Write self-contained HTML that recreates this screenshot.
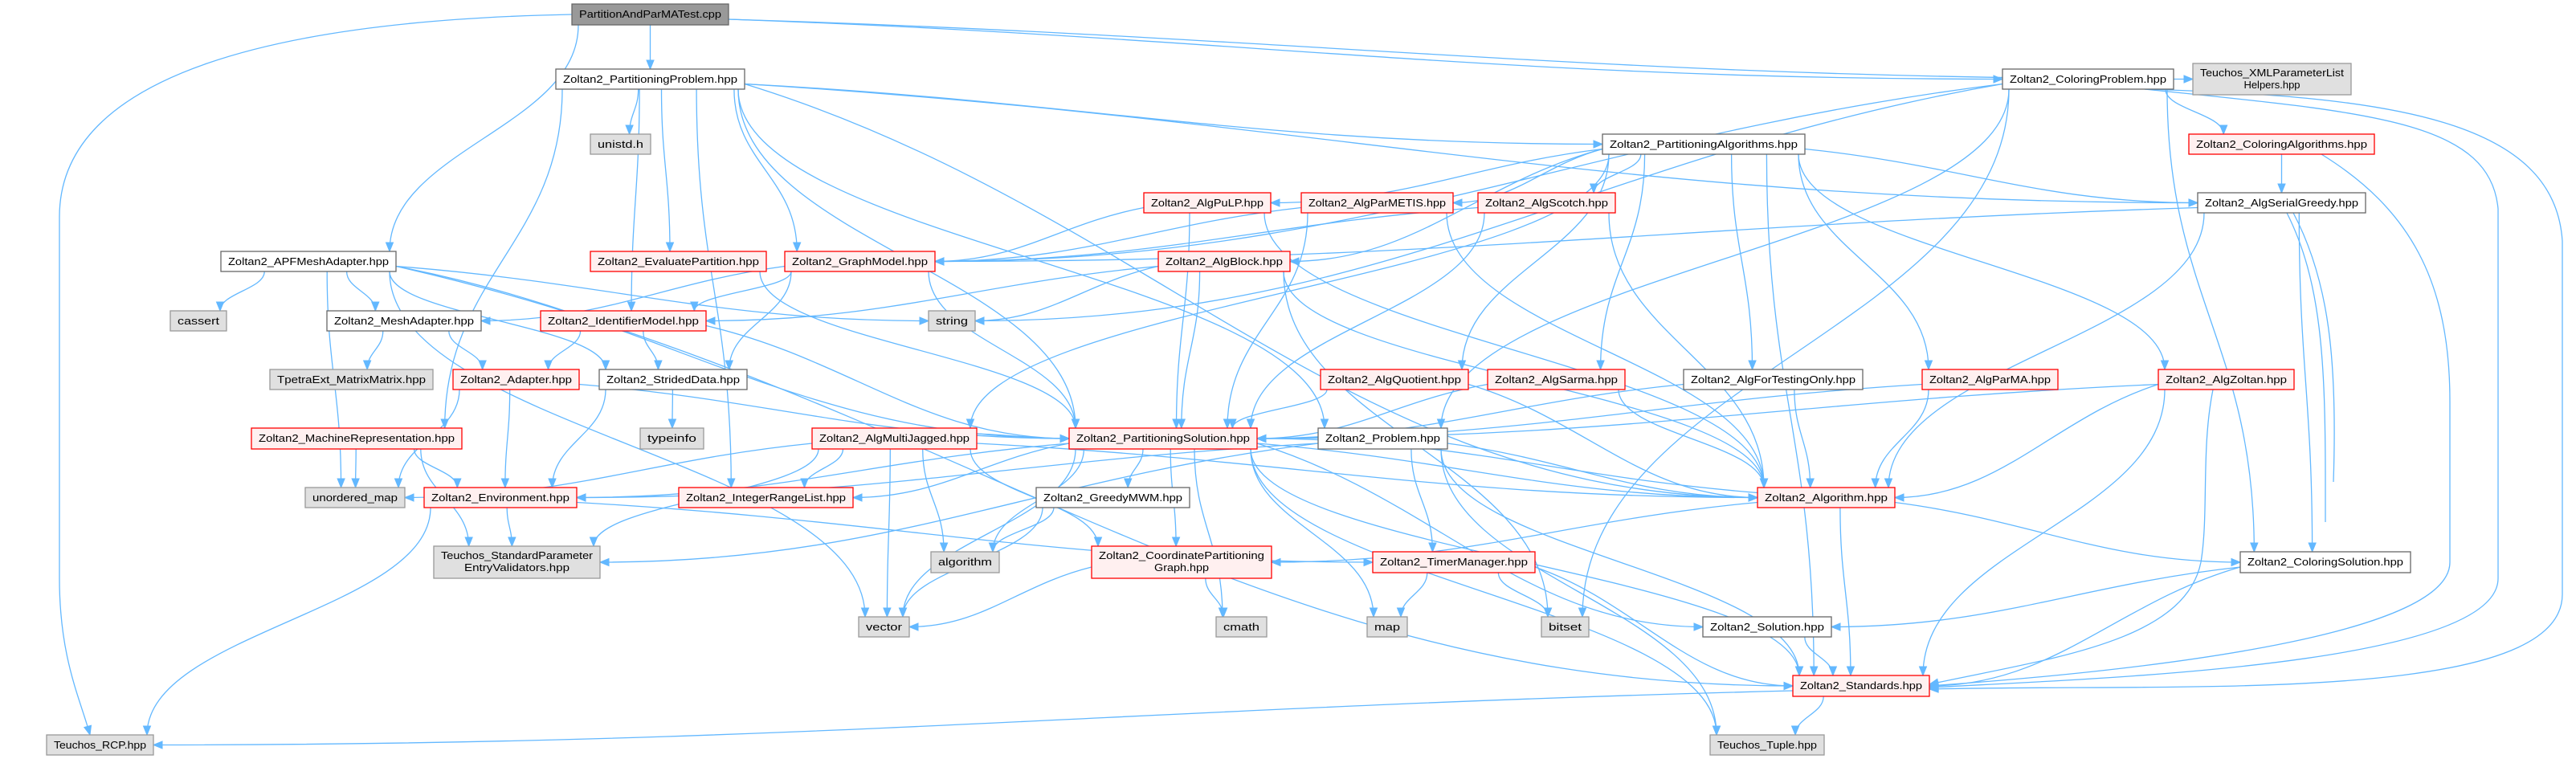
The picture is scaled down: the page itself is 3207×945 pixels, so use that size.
<!DOCTYPE html>
<html><head><meta charset="utf-8"><style>
html,body{margin:0;padding:0;background:#fff;}
svg{display:block;}
text{font-family:"Liberation Sans",sans-serif;font-size:13px;fill:#000;text-anchor:middle;}
.w{fill:#fff;stroke:#666;stroke-width:1.3}
.r{fill:#fff0f0;stroke:#f00;stroke-width:1.3}
.g{fill:#e0e0e0;stroke:#999;stroke-width:1.3}
.d{fill:#999;stroke:#666;stroke-width:1.3}
.e{fill:none;stroke:#63b8ff;stroke-width:1.3}
.a{fill:#63b8ff;stroke:#63b8ff}
</style></head><body>
<svg id="s" width="3207" height="945" viewBox="0 0 3207 945" xmlns="http://www.w3.org/2000/svg">
<g id="edges"></g>
<g id="nodes">
<rect class="d" x="712" y="5" width="195" height="26"/><text x="809.5" y="22" textLength="177" lengthAdjust="spacingAndGlyphs">PartitionAndParMATest.cpp</text>
<rect class="w" x="692" y="86" width="235" height="25"/><text x="809.5" y="103" textLength="217" lengthAdjust="spacingAndGlyphs">Zoltan2_PartitioningProblem.hpp</text>
<rect class="g" x="735" y="167" width="75" height="25"/><text x="772.5" y="184" textLength="57" lengthAdjust="spacingAndGlyphs">unistd.h</text>
<rect class="w" x="275" y="313" width="218" height="25"/><text x="384" y="330" textLength="200" lengthAdjust="spacingAndGlyphs">Zoltan2_APFMeshAdapter.hpp</text>
<rect class="g" x="212" y="387" width="70" height="25"/><text x="247" y="404" textLength="52" lengthAdjust="spacingAndGlyphs">cassert</text>
<rect class="w" x="407" y="387" width="192" height="25"/><text x="503" y="404" textLength="174" lengthAdjust="spacingAndGlyphs">Zoltan2_MeshAdapter.hpp</text>
<rect class="r" x="673" y="387" width="206" height="25"/><text x="776" y="404" textLength="188" lengthAdjust="spacingAndGlyphs">Zoltan2_IdentifierModel.hpp</text>
<rect class="r" x="735" y="313" width="219" height="25"/><text x="844.5" y="330" textLength="201" lengthAdjust="spacingAndGlyphs">Zoltan2_EvaluatePartition.hpp</text>
<rect class="g" x="336" y="460" width="203" height="25"/><text x="437.5" y="477" textLength="185" lengthAdjust="spacingAndGlyphs">TpetraExt_MatrixMatrix.hpp</text>
<rect class="r" x="564" y="460" width="157" height="25"/><text x="642.5" y="477" textLength="139" lengthAdjust="spacingAndGlyphs">Zoltan2_Adapter.hpp</text>
<rect class="w" x="746" y="460" width="184" height="25"/><text x="838" y="477" textLength="166" lengthAdjust="spacingAndGlyphs">Zoltan2_StridedData.hpp</text>
<rect class="r" x="977" y="313" width="187" height="25"/><text x="1070.5" y="330" textLength="169" lengthAdjust="spacingAndGlyphs">Zoltan2_GraphModel.hpp</text>
<rect class="g" x="1156" y="387" width="58" height="25"/><text x="1185" y="404" textLength="40" lengthAdjust="spacingAndGlyphs">string</text>
<rect class="r" x="1424" y="240" width="158" height="25"/><text x="1503" y="257" textLength="140" lengthAdjust="spacingAndGlyphs">Zoltan2_AlgPuLP.hpp</text>
<rect class="r" x="1442" y="313" width="164" height="25"/><text x="1524" y="330" textLength="146" lengthAdjust="spacingAndGlyphs">Zoltan2_AlgBlock.hpp</text>
<rect class="w" x="1995" y="167" width="252" height="25"/><text x="2121" y="184" textLength="234" lengthAdjust="spacingAndGlyphs">Zoltan2_PartitioningAlgorithms.hpp</text>
<rect class="r" x="1620" y="240" width="189" height="25"/><text x="1714.5" y="257" textLength="171" lengthAdjust="spacingAndGlyphs">Zoltan2_AlgParMETIS.hpp</text>
<rect class="r" x="1840" y="240" width="171" height="25"/><text x="1925.5" y="257" textLength="153" lengthAdjust="spacingAndGlyphs">Zoltan2_AlgScotch.hpp</text>
<rect class="r" x="1644" y="460" width="184" height="25"/><text x="1736" y="477" textLength="166" lengthAdjust="spacingAndGlyphs">Zoltan2_AlgQuotient.hpp</text>
<rect class="r" x="1852" y="460" width="171" height="25"/><text x="1937.5" y="477" textLength="153" lengthAdjust="spacingAndGlyphs">Zoltan2_AlgSarma.hpp</text>
<rect class="w" x="2096" y="460" width="223" height="25"/><text x="2207.5" y="477" textLength="205" lengthAdjust="spacingAndGlyphs">Zoltan2_AlgForTestingOnly.hpp</text>
<rect class="r" x="2393" y="460" width="169" height="25"/><text x="2477.5" y="477" textLength="151" lengthAdjust="spacingAndGlyphs">Zoltan2_AlgParMA.hpp</text>
<rect class="g" x="2730" y="79" width="197" height="39"/><text x="2828.5" y="95" textLength="179" lengthAdjust="spacingAndGlyphs">Teuchos_XMLParameterList</text><text x="2828.5" y="110">Helpers.hpp</text>
<rect class="w" x="2493" y="86" width="213" height="25"/><text x="2599.5" y="103" textLength="195" lengthAdjust="spacingAndGlyphs">Zoltan2_ColoringProblem.hpp</text>
<rect class="r" x="2725" y="167" width="231" height="25"/><text x="2840.5" y="184" textLength="213" lengthAdjust="spacingAndGlyphs">Zoltan2_ColoringAlgorithms.hpp</text>
<rect class="w" x="2736" y="240" width="209" height="25"/><text x="2840.5" y="257" textLength="191" lengthAdjust="spacingAndGlyphs">Zoltan2_AlgSerialGreedy.hpp</text>
<rect class="r" x="2687" y="460" width="169" height="25"/><text x="2771.5" y="477" textLength="151" lengthAdjust="spacingAndGlyphs">Zoltan2_AlgZoltan.hpp</text>
<rect class="r" x="313" y="533" width="262" height="26"/><text x="444" y="550" textLength="244" lengthAdjust="spacingAndGlyphs">Zoltan2_MachineRepresentation.hpp</text>
<rect class="g" x="380" y="607" width="124" height="25"/><text x="442" y="624" textLength="106" lengthAdjust="spacingAndGlyphs">unordered_map</text>
<rect class="r" x="528" y="607" width="190" height="25"/><text x="623" y="624" textLength="172" lengthAdjust="spacingAndGlyphs">Zoltan2_Environment.hpp</text>
<rect class="g" x="540" y="680" width="207" height="40"/><text x="643.5" y="696" textLength="189" lengthAdjust="spacingAndGlyphs">Teuchos_StandardParameter</text><text x="643.5" y="711" textLength="131" lengthAdjust="spacingAndGlyphs">EntryValidators.hpp</text>
<rect class="g" x="58" y="915" width="133" height="25"/><text x="124.5" y="932" textLength="115" lengthAdjust="spacingAndGlyphs">Teuchos_RCP.hpp</text>
<rect class="g" x="797" y="533" width="79" height="26"/><text x="836.5" y="550" textLength="61" lengthAdjust="spacingAndGlyphs">typeinfo</text>
<rect class="r" x="1011" y="533" width="205" height="26"/><text x="1113.5" y="550" textLength="187" lengthAdjust="spacingAndGlyphs">Zoltan2_AlgMultiJagged.hpp</text>
<rect class="r" x="1331" y="533" width="234" height="26"/><text x="1448" y="550" textLength="216" lengthAdjust="spacingAndGlyphs">Zoltan2_PartitioningSolution.hpp</text>
<rect class="r" x="845" y="607" width="217" height="25"/><text x="953.5" y="624" textLength="199" lengthAdjust="spacingAndGlyphs">Zoltan2_IntegerRangeList.hpp</text>
<rect class="w" x="1290" y="607" width="191" height="25"/><text x="1385.5" y="624" textLength="173" lengthAdjust="spacingAndGlyphs">Zoltan2_GreedyMWM.hpp</text>
<rect class="g" x="1159" y="687" width="85" height="26"/><text x="1201.5" y="704" textLength="67" lengthAdjust="spacingAndGlyphs">algorithm</text>
<rect class="r" x="1359" y="680" width="224" height="40"/><text x="1471" y="696" textLength="206" lengthAdjust="spacingAndGlyphs">Zoltan2_CoordinatePartitioning</text><text x="1471" y="711" textLength="68" lengthAdjust="spacingAndGlyphs">Graph.hpp</text>
<rect class="g" x="1069" y="768" width="63" height="25"/><text x="1100.5" y="785" textLength="45" lengthAdjust="spacingAndGlyphs">vector</text>
<rect class="g" x="1514" y="768" width="63" height="25"/><text x="1545.5" y="785" textLength="45" lengthAdjust="spacingAndGlyphs">cmath</text>
<rect class="w" x="1641" y="533" width="161" height="26"/><text x="1721.5" y="550" textLength="143" lengthAdjust="spacingAndGlyphs">Zoltan2_Problem.hpp</text>
<rect class="r" x="2188" y="607" width="171" height="25"/><text x="2273.5" y="624" textLength="153" lengthAdjust="spacingAndGlyphs">Zoltan2_Algorithm.hpp</text>
<rect class="r" x="1709" y="687" width="202" height="26"/><text x="1810" y="704" textLength="184" lengthAdjust="spacingAndGlyphs">Zoltan2_TimerManager.hpp</text>
<rect class="g" x="1702" y="768" width="50" height="25"/><text x="1727" y="785" textLength="32" lengthAdjust="spacingAndGlyphs">map</text>
<rect class="g" x="1919" y="768" width="59" height="25"/><text x="1948.5" y="785" textLength="41" lengthAdjust="spacingAndGlyphs">bitset</text>
<rect class="w" x="2120" y="768" width="160" height="25"/><text x="2200" y="785" textLength="142" lengthAdjust="spacingAndGlyphs">Zoltan2_Solution.hpp</text>
<rect class="r" x="2232" y="841" width="170" height="26"/><text x="2317" y="858" textLength="152" lengthAdjust="spacingAndGlyphs">Zoltan2_Standards.hpp</text>
<rect class="g" x="2129" y="915" width="142" height="25"/><text x="2200" y="932" textLength="124" lengthAdjust="spacingAndGlyphs">Teuchos_Tuple.hpp</text>
<rect class="w" x="2789" y="687" width="212" height="26"/><text x="2895" y="704" textLength="194" lengthAdjust="spacingAndGlyphs">Zoltan2_ColoringSolution.hpp</text>
</g>
</svg>
<script>
var N={P0:[712,5,907,31],PP:[692,86,927,111],UN:[735,167,810,192],APF:[275,313,493,338],CA:[212,387,282,412],MA:[407,387,599,412],IM:[673,387,879,412],EP:[735,313,954,338],TP:[336,460,539,485],AD:[564,460,721,485],SD:[746,460,930,485],GM:[977,313,1164,338],ST:[1156,387,1214,412],PU:[1424,240,1582,265],AB:[1442,313,1606,338],PA:[1995,167,2247,192],PM:[1620,240,1809,265],SC:[1840,240,2011,265],AQ:[1644,460,1828,485],AS:[1852,460,2023,485],AF:[2096,460,2319,485],APM:[2393,460,2562,485],XML:[2730,79,2927,118],CP:[2493,86,2706,111],CAL:[2725,167,2956,192],SG:[2736,240,2945,265],AZ:[2687,460,2856,485],MR:[313,533,575,559],UM:[380,607,504,632],EN:[528,607,718,632],TS:[540,680,747,720],RCP:[58,915,191,940],TI:[797,533,876,559],MJ:[1011,533,1216,559],PS:[1331,533,1565,559],IR:[845,607,1062,632],GW:[1290,607,1481,632],AL:[1159,687,1244,713],CPG:[1359,680,1583,720],VE:[1069,768,1132,793],CM:[1514,768,1577,793],PR:[1641,533,1802,559],AG:[2188,607,2359,632],TM:[1709,687,1911,713],MP:[1702,768,1752,793],BS:[1919,768,1978,793],SO:[2120,768,2280,793],STD:[2232,841,2402,867],TT:[2129,915,2271,940],CS:[2789,687,3001,713]};
var E="P0 PP,P0 APF,P0 CP,P0 XML,PP UN,PP EP,PP GM,PP IM,PP MR,PP PA,PP PS,PP PR,PP IR,PP SG,PP AG,APF CA,APF MA,APF SD,APF ST,APF UM,APF VE,APF PS,APF STD,MA TP,MA AD,IM AD,IM SD,IM PS,EP PS,GM SD,GM MA,GM PS,GM IM,AD PS,AD EN,AD UM,SD TI,SD EN,MR EN,MR TS,MR UM,EN TS,EN RCP,EN TM,PU GM,PU PS,PU AG,PM GM,PM PS,PM AG,SC GM,SC PS,SC AG,AB IM,AB ST,AB PS,AB AG,AB BS,PA PU,PA PM,PA SC,PA AB,PA MJ,PA AQ,PA AS,PA AF,PA APM,PA AZ,PA SG,PA STD,AQ PS,AQ AG,AS PS,AS AG,AF PS,AF AG,APM PS,APM AG,AZ PS,AZ AG,AZ STD,SG GM,SG AG,SG CS,CAL SG,CP GM,CP ST,CP CAL,CP CS,CP PR,CP BS,MJ IR,MJ AL,MJ VE,MJ CPG,MJ PS,MJ TS,MJ AG,MJ UM,PS GW,PS AL,PS VE,PS CPG,PS CM,PS AG,PS EN,PS IR,PS SO,PS STD,PS TT,PS MP,GW AL,GW VE,CPG VE,CPG CM,PR TM,PR AG,PR STD,PR TT,PR EN,PR TS,AG CPG,AG CS,AG STD,AG PS,TM MP,TM BS,TM STD,SO STD,CS SO,CS STD,STD TT,STD RCP".split(",");
var out="";
function cl(v,a,b){return Math.max(a,Math.min(b,v));}
function arrow(x,y,px,py){var dx=x-px,dy=y-py,l=Math.sqrt(dx*dx+dy*dy)||1;dx/=l;dy/=l;var bx=x-dx*11,by=y-dy*11;
return '<polygon class="a" points="'+x+','+y+' '+(bx-dy*4.5)+','+(by+dx*4.5)+' '+(bx+dy*4.5)+','+(by-dx*4.5)+'"/>';}
E.forEach(function(s){var p=s.split(" "),A=N[p[0]],B=N[p[1]];
var acx=(A[0]+A[2])/2,acy=(A[1]+A[3])/2,bcx=(B[0]+B[2])/2,bcy=(B[1]+B[3])/2,aw=(A[2]-A[0])/2,bw=(B[2]-B[0])/2;
var sx,sy,ex,ey,c1x,c1y,c2x,c2y;
var hgap=Math.max(B[0]-A[2],A[0]-B[2]);
if(B[1]>=A[3]+8 && !(hgap>2.5*(B[1]-A[3]))){
 sx=acx+cl((bcx-acx)*0.4,-aw+8,aw-8);sy=A[3];ex=bcx+cl((acx-bcx)*0.3,-bw+8,bw-8);ey=B[1];
 var d=ey-sy;c1x=sx;c1y=sy+d*0.45;c2x=ex;c2y=ey-d*0.45;
}else if(B[3]<=A[1]-8 && !(hgap>2.5*(A[1]-B[3]))){
 sx=acx+cl((bcx-acx)*0.4,-aw+8,aw-8);sy=A[1];ex=bcx+cl((acx-bcx)*0.3,-bw+8,bw-8);ey=B[3];
 var d=ey-sy;c1x=sx;c1y=sy+d*0.45;c2x=ex;c2y=ey-d*0.45;
}else{
 if(bcx>acx){sx=A[2];ex=B[0];}else{sx=A[0];ex=B[2];}
 sy=acy+(bcy>acy?6:-6);ey=bcy;var d=ex-sx;c1x=sx+d*0.4;c1y=sy+(ey-sy)*0.3;c2x=ex-d*0.4;c2y=ey;
}
out+='<path class="e" d="M'+sx+','+sy+' C'+c1x+','+c1y+' '+c2x+','+c2y+' '+ex+','+ey+'"/>'+arrow(ex,ey,c2x,c2y);
});
out+='<path class="e" d="M712,18 C350,25 74,90 74,270 L74,720 C74,820 100,870 112,915"/>'+arrow(112,915,100,870);
var C=[
["M2670,111 C2950,140 3100,150 3110,260 L3110,720 C3110,830 2600,845 2402,856",2402,856,2600,845],
["M2670,111 C2980,120 3180,150 3190,300 L3190,740 C3190,880 2700,850 2402,858",2402,858,2700,850],
["M2890,192 C3000,260 3050,350 3050,500 L3050,700 C3050,800 2600,840 2402,854",2402,854,2600,840],
["M2847,265 C2890,350 2895,450 2895,600 L2895,650",2895,650,2895,630],
["M2855,265 C2900,350 2910,450 2905,600",2905,600,2905,580],
["M2755,485 C2740,560 2750,640 2740,700 C2720,800 2550,820 2402,852",2402,852,2550,820]
];
C.forEach(function(c){out+='<path class="e" d="'+c[0]+'"/>';if(c[1]!==2895&&c[1]!==2905)out+=arrow(c[1],c[2],c[3],c[4]);});
document.getElementById("edges").innerHTML=out;
</script>
</body></html>
